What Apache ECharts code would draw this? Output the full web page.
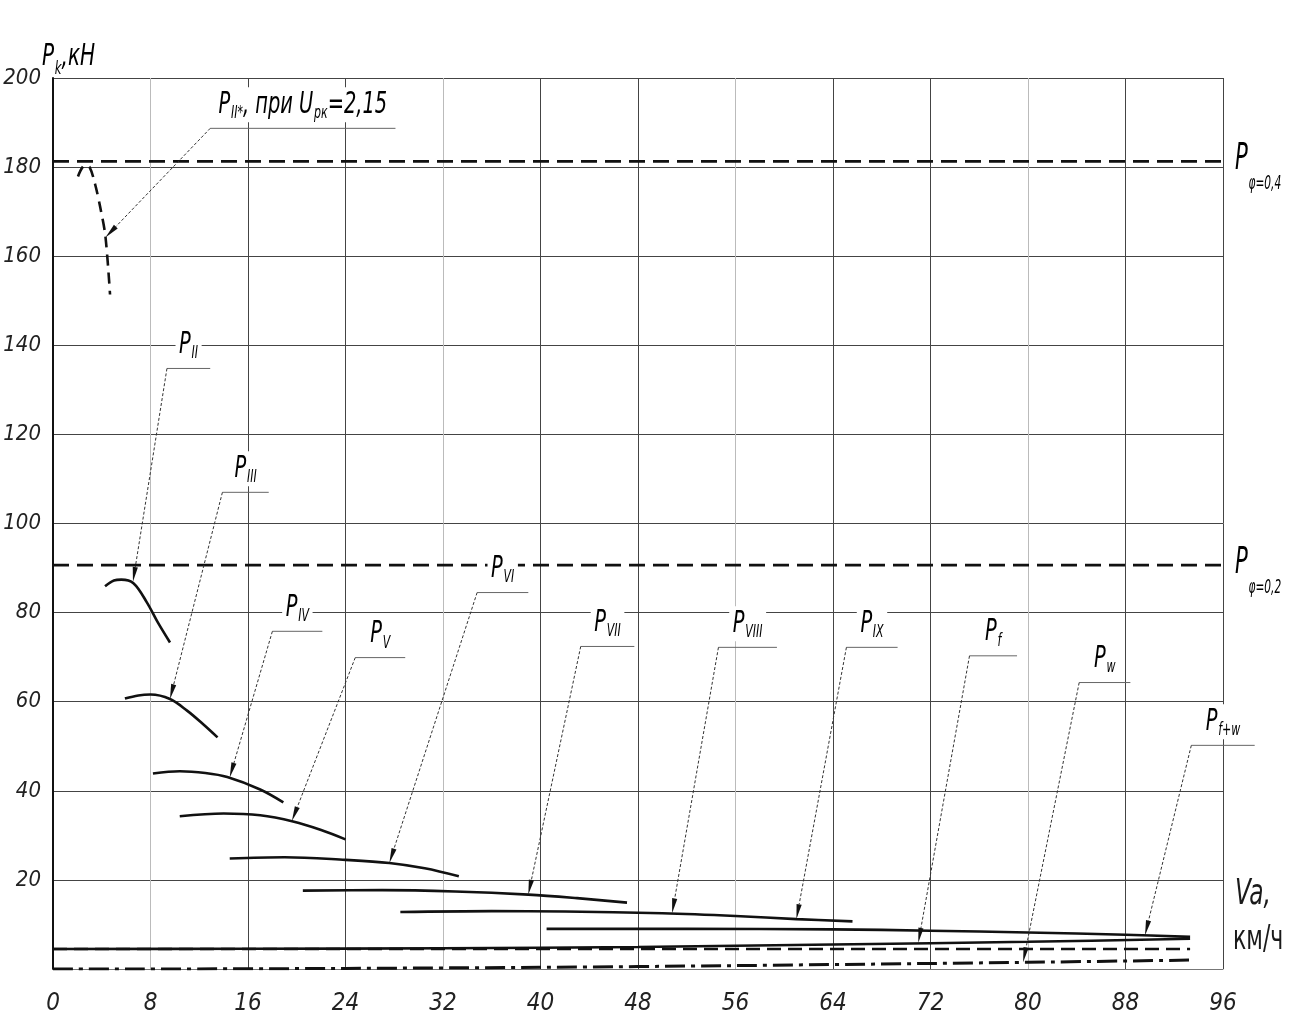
<!DOCTYPE html>
<html>
<head>
<meta charset="utf-8">
<script src="https://cdn.jsdelivr.net/npm/echarts@6/dist/echarts.min.js"></script>
<style>
  html, body { margin: 0; padding: 0; background: #fff; }
  #chart { width: 1289px; height: 1025px; }
</style>
</head>
<body>
<div id="chart"></div>
<script>
// тяговая характеристика: скорость Va (км/ч) -> сила тяги Pk (кН)
const pIIStar = [[2.05, 177.9], [2.6, 180.4], [3.0, 180.0], [3.45, 176.2], [3.86, 171.2], [4.3, 164.5], [4.68, 151.4]];
const pII = [[4.27, 85.9], [5.0, 87.2], [5.6, 87.4], [6.6, 86.6], [7.7, 82.3], [8.6, 77.8], [9.6, 73.3]];
const pIII = [[5.9, 60.7], [7.0, 61.4], [8.0, 61.6], [9.6, 60.6], [11.0, 58.0], [12.3, 55.0], [13.5, 52.0]];
const pIV = [[8.2, 43.9], [10.4, 44.4], [12.5, 44.0], [14.3, 43.1], [17.0, 40.3], [18.9, 37.4]];
const pV = [[10.4, 34.3], [14.0, 34.9], [17.0, 34.5], [19.7, 33.1], [22.0, 31.2], [24.0, 29.1]];
const pVI = [[14.5, 24.8], [19.0, 25.1], [24.0, 24.5], [27.6, 23.8], [30.5, 22.6], [33.3, 20.8]];
const pVII = [[20.5, 17.6], [27.0, 17.7], [33.0, 17.4], [39.0, 16.7], [43.0, 15.9], [47.1, 14.9]];
const pVIII = [[28.5, 12.8], [36.0, 13.0], [42.0, 12.9], [50.0, 12.5], [56.0, 11.9], [61.0, 11.2], [65.6, 10.7]];
const pIX = [[40.5, 9.0], [52.0, 9.0], [64.0, 8.9], [72.0, 8.6], [80.0, 8.2], [88.0, 7.7], [93.3, 7.2]];
const pF = [[0, 4.5], [93.3, 4.5]];
const pW = [[0, 0], [16, 0.05], [32, 0.25], [48, 0.55], [64, 1.0], [80, 1.5], [93.3, 2.0]];
const pFW = [[0, 4.5], [16, 4.55], [32, 4.65], [48, 4.95], [64, 5.5], [80, 6.1], [93.3, 6.8]];
const pPhi04 = [[0, 181.3], [96, 181.3]];
const pPhi02 = [[0, 90.65], [96, 90.65]];

// выноски: подпись, полка [x1, x2, y], острие стрелки [x, y]
const callouts = [
  { text: '{p|P}{s|II*}{p|, при U}{s|рк}{p|=2,15}', shelf: [12.9, 28.1, 188.7], tip: [4.3, 164.2] },
  { text: '{p|P}{s|II}', shelf: [9.35, 12.9, 134.8], tip: [6.56, 86.9] },
  { text: '{p|P}{s|III}', shelf: [13.9, 17.7, 107.0], tip: [9.6, 60.6] },
  { text: '{p|P}{s|IV}', shelf: [18.0, 22.1, 75.8], tip: [14.5, 43.0] },
  { text: '{p|P}{s|V}', shelf: [24.8, 28.9, 69.9], tip: [19.6, 33.2] },
  { text: '{p|P}{s|VI}', shelf: [34.8, 39.0, 84.5], tip: [27.6, 23.8] },
  { text: '{p|P}{s|VII}', shelf: [43.3, 47.7, 72.4], tip: [39.0, 16.7] },
  { text: '{p|P}{s|VIII}', shelf: [54.6, 59.4, 72.2], tip: [50.8, 12.5] },
  { text: '{p|P}{s|IX}', shelf: [65.1, 69.3, 72.2], tip: [61.0, 11.2] },
  { text: '{p|P}{s|f}', shelf: [75.2, 79.1, 70.3], tip: [71.0, 5.9] },
  { text: '{p|P}{s|w}', shelf: [84.2, 88.4, 64.3], tip: [79.6, 1.5] },
  { text: '{p|P}{s|f+w}', shelf: [93.4, 98.6, 50.2], tip: [89.6, 7.6] },
];

const FONT = "'DejaVu Sans Condensed', 'Liberation Sans Narrow', sans-serif";
const INK = '#111';
const NARROW = 0.72;

function curve(name, data, extra) {
  return Object.assign({
    name: name,
    type: 'line',
    data: data,
    symbol: 'none',
    smooth: 0.35,
    silent: true,
    z: 3,
    lineStyle: { color: INK, width: 2.6 },
  }, extra || {});
}

function tok(size, pad) {
  const t = { fontSize: size, fontFamily: FONT, fontStyle: 'italic', fontWeight: 300, color: '#1a1a1a' };
  if (pad) t.padding = [pad, 0, 0, 1];
  return t;
}

const chart = echarts.init(document.getElementById('chart'));

chart.setOption({
  animation: false,
  backgroundColor: '#fff',
  grid: { left: 53, right: 66, top: 78, bottom: 56, outerBoundsMode: 'none' },
  xAxis: {
    type: 'value',
    min: 0,
    max: 96,
    interval: 8,
    axisLine: { show: true, onZero: false, lineStyle: { color: '#777', width: 1 } },
    axisTick: { show: false },
    axisLabel: { margin: 23, fontSize: 24, fontStyle: 'italic', fontFamily: FONT, color: '#222' },
    splitLine: { show: true, lineStyle: { color: ['#444', '#bbb', '#444'], width: 1 } },
  },
  yAxis: {
    type: 'value',
    min: 0,
    max: 200,
    interval: 20,
    axisLine: { show: true, lineStyle: { color: INK, width: 2 } },
    axisTick: { show: false },
    axisLabel: {
      margin: 12, fontSize: 22, fontStyle: 'italic', fontFamily: FONT, color: '#222',
      padding: [8, 0, 0, 0],
      formatter: function (v) { return v === 0 ? '' : v; },
    },
    splitLine: { show: true, lineStyle: { color: '#444', width: 1 } },
  },
  series: [
    curve('Pφ=0,4', pPhi04, { smooth: false, lineStyle: { color: INK, width: 2.8, type: [16, 8] } }),
    curve('Pφ=0,2', pPhi02, { smooth: false, lineStyle: { color: INK, width: 2.8, type: [16, 8] } }),
    curve('PII*', pIIStar, { smooth: 0.3, lineStyle: { color: INK, width: 2.6, type: [11, 7] } }),
    curve('PII', pII),
    curve('PIII', pIII),
    curve('PIV', pIV),
    curve('PV', pV),
    curve('PVI', pVI),
    curve('PVII', pVII),
    curve('PVIII', pVIII),
    curve('PIX', pIX),
    curve('Pf', pF, { smooth: false, lineStyle: { color: INK, width: 2.6, type: [14, 7] } }),
    curve('Pw', pW, { lineStyle: { color: INK, width: 3, type: [20, 6, 4, 6] } }),
    curve('Pf+w', pFW),
  ],
});

function px(p) {
  return chart.convertToPixel({ gridIndex: 0 }, p);
}

const graphics = [];

callouts.forEach(function (c) {
  const a = px([c.shelf[0], c.shelf[2]]);
  const b = px([c.shelf[1], c.shelf[2]]);
  const t = px(c.tip);
  const dx = t[0] - a[0], dy = t[1] - a[1];
  const len = Math.hypot(dx, dy);
  const ux = dx / len, uy = dy / len;
  const bx = t[0] - ux * 15, by = t[1] - uy * 15;
  graphics.push({ type: 'line', z: 10, shape: { x1: a[0], y1: a[1], x2: b[0], y2: b[1] }, style: { stroke: '#666', lineWidth: 1 } });
  graphics.push({ type: 'line', z: 10, shape: { x1: a[0], y1: a[1], x2: bx, y2: by }, style: { stroke: '#333', lineWidth: 1, lineDash: [3, 2] } });
  graphics.push({
    type: 'polygon', z: 10,
    shape: { points: [t, [bx - uy * 2.6, by + ux * 2.6], [bx + uy * 2.6, by - ux * 2.6]] },
    style: { fill: INK },
  });
  graphics.push({
    type: 'text', z: 11,
    x: (a[0] + b[0]) / 2, y: a[1] - 6, scaleX: NARROW,
    style: {
      text: c.text,
      align: 'center', verticalAlign: 'bottom',
      backgroundColor: '#fff', padding: [0, 5, 0, 5],
      rich: { p: tok(30), s: tok(17, 18) },
    },
  });
});

// подписи у правой границы и осей
const r04 = px([96, 181.3]);
const r02 = px([96, 90.65]);
[[r04, '{p|P}{s|φ=0,4}'], [r02, '{p|P}{s|φ=0,2}']].forEach(function (it) {
  graphics.push({
    type: 'text', z: 11, x: it[0][0] + 12, y: it[0][1] - 2, scaleX: 0.62,
    style: { text: it[1], align: 'left', verticalAlign: 'middle', rich: { p: tok(38), s: tok(19, 50) } },
  });
});

const origin = px([0, 200]);
graphics.push({
  type: 'text', z: 11, x: origin[0] - 11, y: origin[1] - 21, scaleX: NARROW,
  style: { text: '{p|P}{s|k}{p|,кН}', align: 'left', verticalAlign: 'middle', rich: { p: tok(31), s: tok(18, 24) } },
});

const xEnd = px([96, 0]);
graphics.push({
  type: 'text', z: 11, x: xEnd[0] + 12, y: xEnd[1] - 74, scaleX: NARROW,
  style: { text: 'Va,', align: 'left', verticalAlign: 'middle', fontSize: 36, fontFamily: FONT, fontStyle: 'italic', fill: '#1a1a1a' },
});
graphics.push({
  type: 'text', z: 11, x: xEnd[0] + 10, y: xEnd[1] - 29, scaleX: NARROW,
  style: { text: 'км/ч', align: 'left', verticalAlign: 'middle', fontSize: 34, fontFamily: FONT, fill: '#1a1a1a' },
});

chart.setOption({ graphic: graphics });
</script>
</body>
</html>
